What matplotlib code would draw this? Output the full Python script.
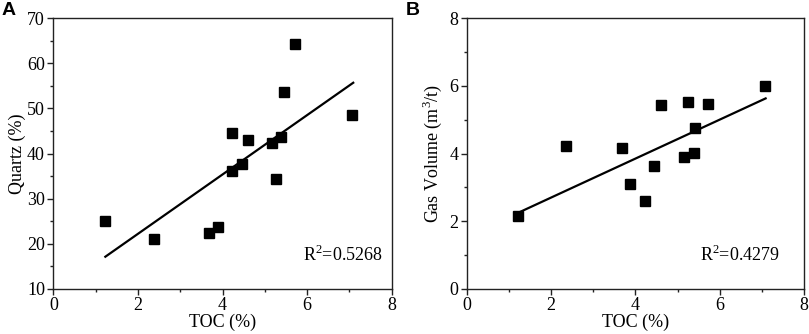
import matplotlib
matplotlib.use("Agg")
import matplotlib.pyplot as plt
from matplotlib.ticker import MultipleLocator

# Data
toc_a = [1.23, 2.37, 3.69, 3.89, 4.23, 4.23, 4.45, 4.60, 5.17, 5.26, 5.38, 5.45, 5.72, 7.07]
quartz = [25.0, 21.0, 22.4, 23.7, 44.6, 36.2, 37.7, 43.1, 42.4, 34.3, 43.7, 53.6, 64.4, 48.5]
fit_a_x = [1.23, 7.09]
fit_a_y = [17.1, 55.7]
r2_a = "R$^{2}$=0.5268"

toc_b = [1.21, 2.36, 3.68, 3.87, 4.23, 4.44, 4.60, 5.15, 5.25, 5.38, 5.42, 5.72, 7.07]
gas = [2.14, 4.21, 4.16, 3.11, 2.60, 3.63, 5.43, 3.90, 5.53, 4.01, 4.75, 5.47, 6.01]
fit_b_x = [1.21, 7.09]
fit_b_y = [2.24, 5.63]
r2_b = "R$^{2}$=0.4279"

plt.rcParams['font.family'] = ['Liberation Serif', 'DejaVu Serif']
plt.rcParams['mathtext.fontset'] = 'custom'
plt.rcParams['mathtext.rm'] = 'Liberation Serif'

FS = 13

fig = plt.figure(figsize=(8.09, 3.34), dpi=100)
axA = fig.add_axes([0.0659, 0.1356, 0.4183, 0.8096])
axB = fig.add_axes([0.5769, 0.1356, 0.4169, 0.8096])

def style(ax):
    for s in ax.spines.values():
        s.set_linewidth(1.0)
        s.set_color('#222222')
    ax.tick_params(which='major', direction='out', length=4, width=1, labelsize=FS, colors='#222222', labelcolor='black', pad=2)
    ax.tick_params(which='minor', direction='out', length=2.5, width=1, colors='#222222')
    ax.xaxis.set_major_locator(MultipleLocator(2))
    ax.xaxis.set_minor_locator(MultipleLocator(1))
    ax.set_xlim(0, 8)
    ax.set_xlabel('TOC (%)', fontsize=FS, labelpad=0)

# Panel A
axA.plot(toc_a, quartz, 's', color='black', markersize=7)
axA.plot(fit_a_x, fit_a_y, '-', color='black', linewidth=1.6)
style(axA)
axA.set_ylim(10, 70)
axA.yaxis.set_major_locator(MultipleLocator(10))
axA.yaxis.set_minor_locator(MultipleLocator(5))
axA.set_ylabel('Quartz (%)', fontsize=FS, labelpad=1)
axA.text(0.975, 0.125, r2_a, transform=axA.transAxes, ha='right', va='center', fontsize=FS)

# Panel B
axB.plot(toc_b, gas, 's', color='black', markersize=7)
axB.plot(fit_b_x, fit_b_y, '-', color='black', linewidth=1.6)
style(axB)
axB.set_ylim(0, 8)
axB.yaxis.set_major_locator(MultipleLocator(2))
axB.yaxis.set_minor_locator(MultipleLocator(1))
axB.set_ylabel('Gas Volume (m$^{3}$/t)', fontsize=FS, labelpad=4)
axB.text(0.93, 0.125, r2_b, transform=axB.transAxes, ha='right', va='center', fontsize=FS)

fig.text(0.002, 0.995, 'A', fontsize=14, fontweight='bold', family='Liberation Sans', va='top', ha='left')
fig.text(0.502, 0.995, 'B', fontsize=14, fontweight='bold', family='Liberation Sans', va='top', ha='left')

fig.savefig('out.png', dpi=100)
